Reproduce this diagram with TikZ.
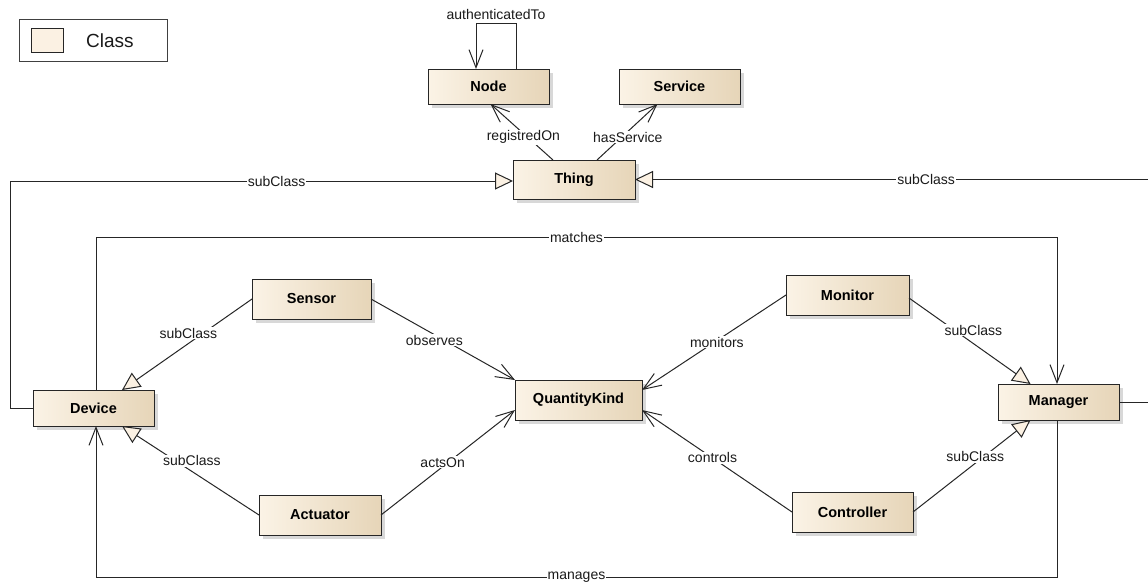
\documentclass[tikz,border=0pt]{standalone}
\usepackage{fontspec}
\setmainfont{Liberation Sans}
\usetikzlibrary{arrows.meta,shadows,calc}
\definecolor{clsL}{HTML}{FBF3E6}
\definecolor{clsR}{HTML}{E6D5B8}
\definecolor{swatchc}{HTML}{FBF1E3}
\definecolor{txt}{HTML}{1A1A1A}
\begin{document}
\begin{tikzpicture}[x=1pt,y=-1pt,
 cls/.style={draw=black!85, line width=1pt, inner sep=0pt, outer sep=0pt,
   left color=clsL, right color=clsR,
   drop shadow={shadow xshift=4pt, shadow yshift=-4pt, fill=black!30},
   font=\fontsize{14.5}{16}\selectfont\bfseries, text=black},
 lbl/.style={fill=white, inner sep=1pt, font=\fontsize{14}{16}\selectfont, text=txt},
 conn/.style={draw=black!85, line width=1pt},
 assoc/.style={conn, -{Straight Barb[length=18pt,width=14pt]}},
 genz/.style={conn, -{Triangle[length=18pt,width=17pt,fill=swatchc]}},
]
\fill[white] (0,0) rectangle (1148,581);
\useasboundingbox (0,0) rectangle (1148,581);

% legend
\node[draw=black!75, line width=1pt, minimum width=148pt, minimum height=42pt, inner sep=0pt] (legend) at (93,40) {};
\node[draw=black!85, line width=1pt, fill=swatchc, minimum width=32pt, minimum height=24pt, inner sep=0pt] (swatch) at (47,40) {};
\node[font=\fontsize{19}{22}\selectfont, inner sep=0pt, text=txt] (legendtext) at (110,41) {Class};

% classes
\node[cls, minimum width=121pt, minimum height=35pt] (node) at (488.5,86.5) {Node};
\node[cls, minimum width=121pt, minimum height=35pt] (service) at (679.5,86.5) {Service};
\node[cls, minimum width=122pt, minimum height=39pt] (thing) at (574,179.5) {Thing};
\node[cls, minimum width=119pt, minimum height=40pt] (sensor) at (311.5,299) {Sensor};
\node[cls, minimum width=123pt, minimum height=40pt] (monitor) at (847.5,295) {Monitor};
\node[cls, minimum width=121pt, minimum height=36pt] (device) at (93.5,408) {Device};
\node[cls, minimum width=127pt, minimum height=40pt] (qk) at (578.5,400) {QuantityKind};
\node[cls, minimum width=121pt, minimum height=36pt] (manager) at (1058.5,402) {Manager};
\node[cls, minimum width=122pt, minimum height=40pt] (actuator) at (320,515) {Actuator};
\node[cls, minimum width=121pt, minimum height=40pt] (controller) at (852.5,512) {Controller};

% connectors
\draw[assoc] ([xshift=27.5pt]node.north) -- ++(0,-46) -- node[lbl, above=2pt, fill=none]{authenticatedTo} ++(-40,0) -- ([xshift=-12.5pt]node.north);
\draw[assoc] ([xshift=-21pt]thing.north) -- node[lbl,pos=0.41,xshift=-4pt]{registredOn} ([xshift=2pt]node.south);
\draw[assoc] ([xshift=23pt]thing.north) -- node[lbl,pos=0.41,xshift=6pt]{hasService} ([xshift=-22pt]service.south);

\draw[genz] (device.west) -- ++(-23,0) |- node[lbl,pos=0.765]{subClass} ([yshift=-1.5pt]thing.west);
\draw[genz] (manager.east) -- ++(36,0) |- node[lbl,pos=0.72]{subClass} (thing.east);

\draw[assoc] ([xshift=2.5pt]device.north) -- ++(0,-153) -| node[lbl,pos=0.25]{matches} ([xshift=-1.5pt]manager.north);
\draw[assoc] ([xshift=-1.5pt]manager.south) -- ++(0,157) -| node[lbl,pos=0.25]{manages} ([xshift=2.5pt]device.south);

\draw[genz] (sensor.west) -- node[lbl,pos=0.49,yshift=10.5pt]{subClass} ([xshift=28.5pt]device.north);
\draw[genz] (actuator.west) -- node[lbl,pos=0.49,yshift=10.5pt]{subClass} ([xshift=28.5pt]device.south);
\draw[assoc] (sensor.east) -- node[lbl,pos=0.44,yshift=-5.5pt]{observes} (qk.north west);
\draw[assoc] (actuator.east) -- node[lbl,pos=0.46,yshift=4.5pt]{actsOn} ([yshift=10pt]qk.south west);
\draw[assoc] (monitor.west) -- node[lbl,pos=0.48,yshift=-1.5pt]{monitors} ([yshift=-10pt]qk.north east);
\draw[assoc] (controller.west) -- node[lbl,pos=0.53]{controls} ([yshift=10pt]qk.south east);
\draw[genz] ([yshift=-3pt]monitor.east) -- node[lbl,pos=0.53,yshift=13.5pt]{subClass} ([xshift=-28pt]manager.north);
\draw[genz] (controller.east) -- node[lbl,pos=0.53,yshift=6.5pt]{subClass} ([xshift=-28pt]manager.south);
\end{tikzpicture}
\end{document}
